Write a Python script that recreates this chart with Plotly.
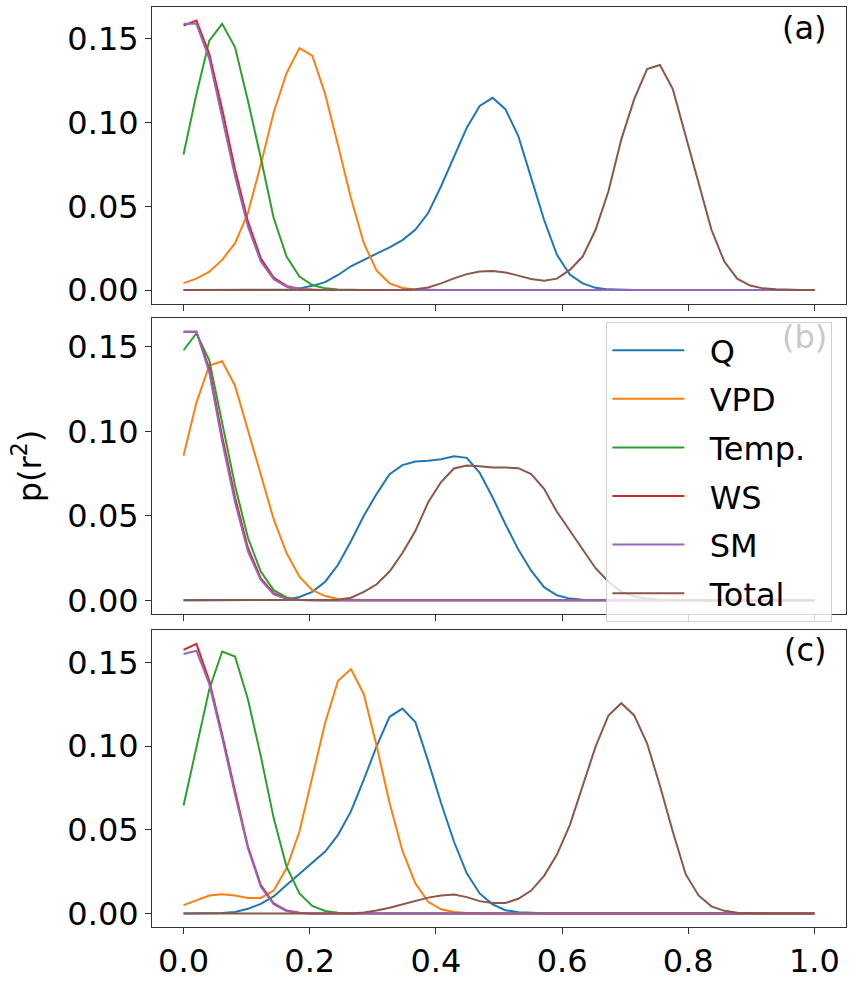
import plotly.graph_objects as go

# r^2 grid (50 points from 0 to 1)
r2 = [i / 49 for i in range(50)]

series_names = ["Q", "VPD", "Temp.", "WS", "SM", "Total"]
colors = ["#1f77b4", "#ff7f0e", "#2ca02c", "#d62728", "#9467bd", "#8c564b"]
panel_labels = ["(a)", "(b)", "(c)"]
x_ticks = [0.0, 0.2, 0.4, 0.6, 0.8, 1.0]
y_ticks = [0.0, 0.05, 0.10, 0.15]

# ---------------- panel (a) ----------------
Q_a = [0]*8 + [0.0002, 0.001, 0.0025, 0.0047, 0.009, 0.0142, 0.0182, 0.0218, 0.0255, 0.0298,
               0.036, 0.046, 0.062, 0.080, 0.097, 0.110, 0.1148, 0.108, 0.092, 0.067,
               0.042, 0.021, 0.0092, 0.004, 0.0013, 0.0004, 0.0001] + [0]*15
VPD_a = [0.0041, 0.0068, 0.011, 0.018, 0.028, 0.046, 0.075, 0.106, 0.1295, 0.1445,
         0.140, 0.117, 0.0865, 0.055, 0.028, 0.0115, 0.004, 0.0012, 0.0004, 0.0001] + [0]*30
Temp_a = [0.081, 0.117, 0.149, 0.159, 0.145, 0.113, 0.079, 0.043, 0.020, 0.008,
          0.003, 0.001, 0.0003] + [0]*37
WS_a = [0.158, 0.161, 0.141, 0.108, 0.072, 0.041, 0.019, 0.0075, 0.0025, 0.0006, 0.0001] + [0]*39
SM_a = [0.159, 0.159, 0.138, 0.104, 0.068, 0.038, 0.017, 0.0065, 0.002, 0.0005, 0.0001] + [0]*39
Total_a = [0]*16 + [0.0001, 0.0002, 0.0005, 0.0015, 0.004, 0.007, 0.0095, 0.011, 0.0113, 0.0105,
                    0.0086, 0.0066, 0.0055, 0.0068, 0.012, 0.020, 0.036, 0.059, 0.090, 0.114,
                    0.132, 0.1344, 0.120, 0.092, 0.063, 0.036, 0.017, 0.0068, 0.0027, 0.001,
                    0.0004, 0.0001] + [0]*2

# ---------------- panel (b) ----------------
Q_b = [0]*8 + [0.0003, 0.002, 0.005, 0.011, 0.021, 0.035, 0.050, 0.063, 0.0747, 0.080,
               0.0822, 0.0826, 0.0835, 0.0853, 0.0843, 0.0755, 0.061, 0.045, 0.030, 0.0175,
               0.0078, 0.003, 0.001, 0.0003, 0.0001] + [0]*17
VPD_b = [0.0855, 0.117, 0.139, 0.1415, 0.127, 0.101, 0.074, 0.048, 0.028, 0.014,
         0.006, 0.0025, 0.0008, 0.0003, 0.0001] + [0]*35
Temp_b = [0.148, 0.158, 0.142, 0.105, 0.068, 0.037, 0.017, 0.006, 0.0017, 0.0004] + [0]*40
WS_b = [0.159, 0.159, 0.137, 0.097, 0.061, 0.031, 0.013, 0.0042, 0.001, 0.0002] + [0]*40
SM_b = [0.159, 0.159, 0.135, 0.094, 0.058, 0.029, 0.012, 0.0035, 0.0009, 0.0002] + [0]*40
Total_b = [0]*12 + [0.0003, 0.0015, 0.005, 0.0095, 0.017, 0.028, 0.041, 0.058, 0.070, 0.078,
                    0.0798, 0.0793, 0.0786, 0.0786, 0.0782, 0.0747, 0.066, 0.0524, 0.041, 0.030,
                    0.019, 0.011, 0.005, 0.0023, 0.0011, 0.0004, 0.0001] + [0]*11

# ---------------- panel (c) ----------------
Q_c = [0, 0, 0.0001, 0.0003, 0.0009, 0.0028, 0.0058, 0.0102, 0.017, 0.0235,
       0.030, 0.037, 0.047, 0.061, 0.080, 0.100, 0.1175, 0.1224, 0.1144, 0.091,
       0.066, 0.043, 0.024, 0.012, 0.0055, 0.002, 0.0007, 0.0002, 0.0001] + [0]*21
VPD_c = [0.005, 0.008, 0.0108, 0.0115, 0.0108, 0.0093, 0.0093, 0.0137, 0.027, 0.049,
         0.082, 0.114, 0.139, 0.146, 0.131, 0.100, 0.066, 0.0375, 0.018, 0.007,
         0.0025, 0.0009, 0.0003, 0.0001] + [0]*26
Temp_c = [0.0645, 0.100, 0.134, 0.1565, 0.1535, 0.128, 0.094, 0.057, 0.028, 0.012,
          0.0045, 0.0015, 0.0004, 0.0001] + [0]*36
WS_c = [0.1575, 0.161, 0.139, 0.107, 0.073, 0.040, 0.017, 0.006, 0.0018, 0.0004] + [0]*40
SM_c = [0.155, 0.157, 0.137, 0.105, 0.071, 0.039, 0.016, 0.0055, 0.0015, 0.0003] + [0]*40
Total_c = [0]*14 + [0.0006, 0.0018, 0.0035, 0.0055, 0.0075, 0.0095, 0.0108, 0.0114, 0.0098, 0.0074,
                    0.0063, 0.0063, 0.0088, 0.0137, 0.0225, 0.0352, 0.0528, 0.0763, 0.0997, 0.1183,
                    0.1256, 0.1183, 0.1017, 0.0763, 0.0489, 0.0235, 0.0108, 0.0043, 0.0016, 0.0004,
                    0.0001] + [0]*5

panels = [
    [Q_a, VPD_a, Temp_a, WS_a, SM_a, Total_a],
    [Q_b, VPD_b, Temp_b, WS_b, SM_b, Total_b],
    [Q_c, VPD_c, Temp_c, WS_c, SM_c, Total_c],
]

FONT = "DejaVu Sans"
FS = 32
AX = "#333333"
NB = "\u00a0\u00a0"  # small gap between legend line and label / right padding

fig = go.Figure()
for p, data in enumerate(panels):
    xa = "x" if p == 0 else f"x{p+1}"
    ya = "y" if p == 0 else f"y{p+1}"
    for s, vals in enumerate(data):
        fig.add_trace(go.Scatter(
            x=r2, y=vals, mode="lines", name=NB + series_names[s] + NB,
            line=dict(color=colors[s], width=2),
            xaxis=xa, yaxis=ya,
            showlegend=(p == 0), legendgroup=series_names[s],
        ))

# subplot geometry (paper fractions)
domains = [[0.6777, 1.0], [0.3405, 0.6617], [0.0, 0.3223]]

layout = dict(
    width=851, height=984,
    margin=dict(l=152, r=4, t=7, b=43),
    paper_bgcolor="white", plot_bgcolor="white",
    font=dict(family=FONT, size=FS, color="black"),
    showlegend=True,
    legend=dict(
        x=0.6547, y=0.6577, xanchor="left", yanchor="top",
        bgcolor="rgba(255,255,255,0.8)", bordercolor="rgba(204,204,204,0.9)", borderwidth=1,
        font=dict(family=FONT, size=FS, color="black"),
        tracegroupgap=4, itemwidth=72, traceorder="grouped",
    ),
)

for p in range(3):
    suffix = "" if p == 0 else str(p + 1)
    ymax = max(max(v) for v in panels[p])
    layout["xaxis" + suffix] = dict(
        domain=[0, 1], anchor="y" + suffix, range=[-0.05, 1.05],
        tickvals=x_ticks, tickformat=".1f", showticklabels=(p == 2),
        ticks="outside", ticklen=6, tickwidth=1, tickcolor=AX,
        showline=True, mirror=True, linecolor=AX, linewidth=1,
        showgrid=False, zeroline=False,
        tickfont=dict(family=FONT, size=FS, color="black"),
    )
    layout["yaxis" + suffix] = dict(
        domain=domains[p], anchor="x" + suffix, range=[-0.05 * ymax, 1.05 * ymax],
        tickvals=y_ticks, tickformat=".2f",
        ticks="outside", ticklen=6, tickwidth=1, tickcolor=AX,
        showline=True, mirror=True, linecolor=AX, linewidth=1,
        showgrid=False, zeroline=False,
        tickfont=dict(family=FONT, size=FS, color="black"),
    )

layout["yaxis2"]["title"] = dict(text="p(r<sup>2</sup>)", font=dict(family=FONT, size=FS, color="black"),
                                 standoff=16)

fig.update_layout(**layout)

label_colors = ["black", "#c8c8c8", "black"]
label_y = [0.93, 0.937, 0.934]
for p in range(3):
    suffix = "" if p == 0 else str(p + 1)
    fig.add_annotation(
        text=panel_labels[p], xref="x" + suffix + " domain",
        yref="y" + suffix + " domain", x=0.976, y=label_y[p],
        xanchor="right", yanchor="middle", showarrow=False,
        font=dict(family=FONT, size=FS, color=label_colors[p]),
    )

fig.write_html("out.html")
